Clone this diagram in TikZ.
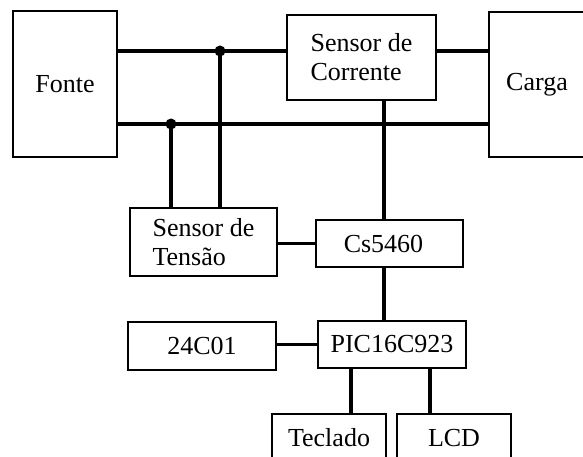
\documentclass[tikz,border=0pt]{standalone}
\usepackage{fontspec}
\setmainfont{Liberation Serif}
\usepackage{tikz}

\begin{document}
\begin{tikzpicture}[x=1pt, y=-1pt,
    blk/.style={draw, line width=2.4pt, fill=white, inner sep=0pt, align=left,
      font=\fontsize{26}{29}\selectfont},
    wire/.style={line width=3.6pt},
    junct/.style={circle, fill, inner sep=0pt, minimum size=11pt}]
    \useasboundingbox (0,0) rectangle (583,457);
    \clip (0,0) rectangle (583,457);
    % blocos
    \node[blk, minimum width=104pt, minimum height=146pt] (fonte) at (65,84) {Fonte};
    \node[blk, minimum width=149pt, minimum height=85pt] (sensI) at (361.5,57.5) {Sensor de\\Corrente};
    \node[blk, minimum width=96pt, minimum height=145pt] (carga) at (537,84.5) {\raisebox{-3pt}{Carga}};
    \node[blk, minimum width=147pt, minimum height=68pt] (sensV) at (203.5,242) {Sensor de\\Tens\~ao};
    \node[blk, minimum width=147pt, minimum height=47pt] (cs) at (389.5,243.5) {Cs5460\hspace{12pt}};
    \node[blk, minimum width=148pt, minimum height=47pt] (pic) at (392,344.5) {PIC16C923};
    \node[blk, minimum width=148pt, minimum height=48pt] (eeprom) at (202,346) {24C01};
    \node[blk, minimum width=114pt, minimum height=48pt] (tecl) at (329,438) {Teclado};
    \node[blk, minimum width=114pt, minimum height=48pt] (lcd) at (454,438) {LCD};
    % pontos de ligacao
    \coordinate (j1) at (220,51);
    \coordinate (j2) at (171,124);
    \coordinate (bus) at (384,0);
    \coordinate (bt) at (351,0);
    \coordinate (bl) at (430,0);
    % linhas de potencia
    \draw[wire] (fonte.east |- j1) -- (j1) -- (sensI.west |- j1);
    \draw[wire] (sensI.east |- j1) -- (carga.west |- j1);
    \draw[wire] (fonte.east |- j2) -- (j2) -- (carga.west |- j2);
    \draw[wire] (j1) -- (sensV.north -| j1);
    \draw[wire] (j2) -- (sensV.north -| j2);
    \node[junct] at (j1) {};
    \node[junct] at (j2) {};
    % sinais
    \draw[wire] (sensI.south -| bus) -- (cs.north -| bus);
    \draw[wire] (cs.south -| bus) -- (pic.north -| bus);
    \draw[wire] (sensV.east |- cs.west) -- (cs.west);
    \draw[wire] (eeprom.east |- pic.west) -- (pic.west);
    \draw[wire] (pic.south -| bt) -- (tecl.north -| bt);
    \draw[wire] (pic.south -| bl) -- (lcd.north -| bl);
\end{tikzpicture}
\end{document}
